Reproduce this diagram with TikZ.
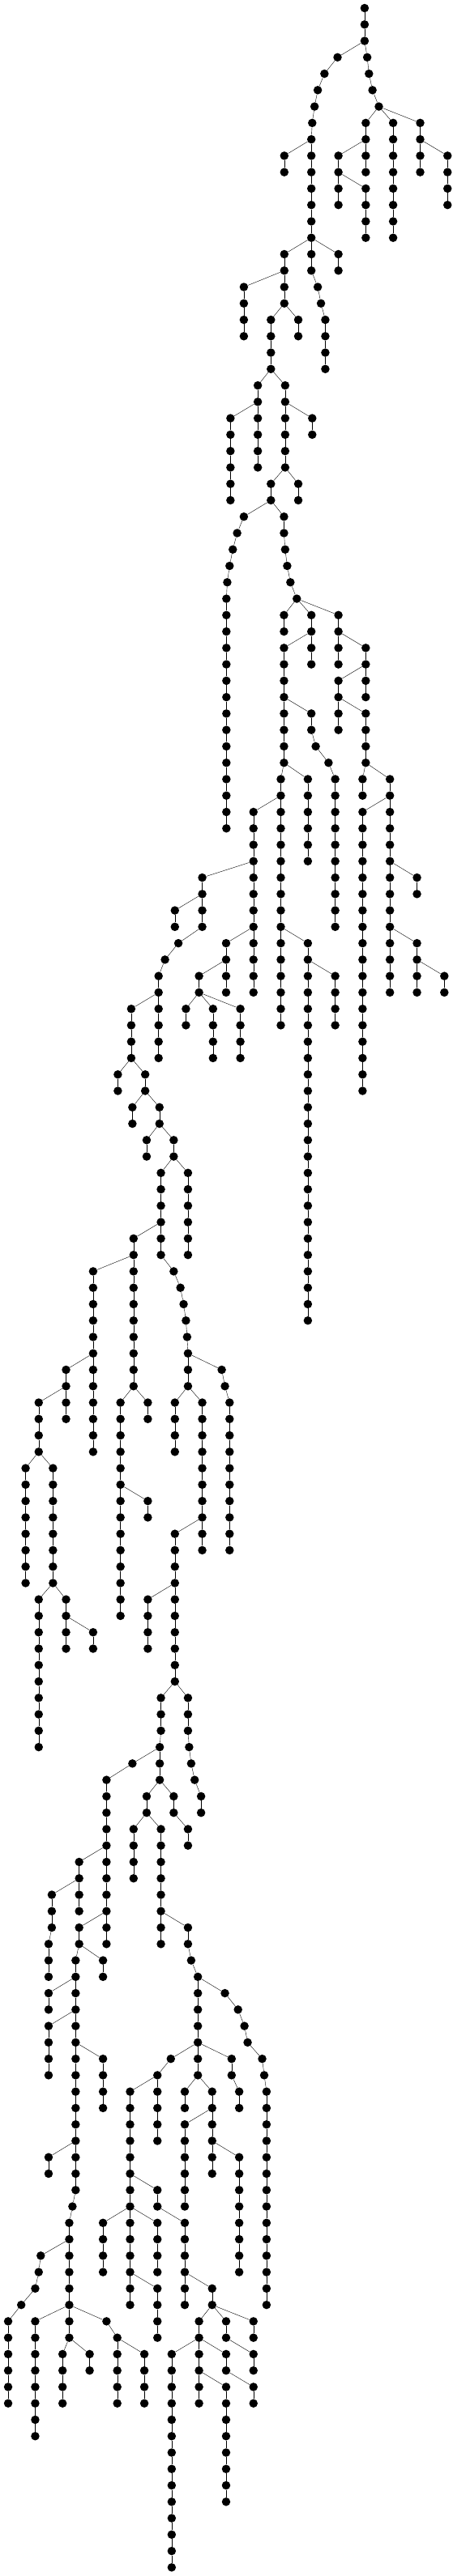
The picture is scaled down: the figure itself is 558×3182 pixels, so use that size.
\documentclass[tikz,border=0pt]{standalone}
\def\myhdist{0.359073pt}
\def\myvdist{20.265pt}
\tikzset{
line width=1.3pt, % All edges a bit over one pixel
my vertex/.style={circle,fill=black,draw=none,inner sep=0pt,minimum size=10.5pt},
}
% one branch: parent node, first level, list of x/repeat
\newcommand\mybranch[3]{%
  \xdef\myprev{#1}\xdef\mylev{#2}%
  \foreach \x/\n in {#3} {%
    \foreach \k in {1,...,\n} {%
      \node[my vertex] (v\mylev-\x) at (\x,-\mylev) {};
      \draw (\myprev) -- (v\mylev-\x);
      \xdef\myprev{v\mylev-\x}%
      \pgfmathtruncatemacro\mynext{\mylev+1}%
      \xdef\mylev{\mynext}%
    }%
  }%
}

\begin{document}
\begin{tikzpicture}[x=\myhdist,y=\myvdist]
\useasboundingbox (0pt,10pt) rectangle (558pt,-3172pt);
\node[my vertex] (v0-1253) at (1253,0) {};
\mybranch{v0-1253}{1}{1253/2,1160/1,1115/1,1092/1,1081/1,1073/1,1070/9,1092/1,1103/1,1118/4}
\mybranch{v2-1253}{3}{1262/1,1268/1,1280/1,1302/1,1351/8}
\mybranch{v6-1302}{7}{1257/4}
\mybranch{v8-1257}{9}{1163/4}
\mybranch{v10-1163}{11}{1257/4}
\mybranch{v6-1302}{7}{1444/4}
\mybranch{v8-1444}{9}{1538/4}
\mybranch{v8-1070}{9}{977/2}
\mybranch{v14-1070}{15}{977/4,931/4,886/6}
\mybranch{v14-1070}{15}{1163/2}
\mybranch{v16-977}{17}{838/4}
\mybranch{v18-977}{19}{1025/2}
\mybranch{v24-886}{25}{792/6}
\mybranch{v22-931}{23}{980/6,931/2,976/2,980/1,987/1,998/1,1020/1,1070/4}
\mybranch{v24-980}{25}{1073/2}
\mybranch{v28-980}{29}{1025/2}
\mybranch{v30-931}{31}{838/1,815/1,800/1,789/1,781/1,778/15}
\mybranch{v36-1020}{37}{976/2}
\mybranch{v36-1020}{37}{1163/4}
\mybranch{v38-1163}{39}{1257/4}
\mybranch{v40-1257}{41}{1163/4}
\mybranch{v42-1163}{43}{1257/4,1340/14}
\mybranch{v46-1257}{47}{1246/2}
\mybranch{v48-1340}{49}{1246/18}
\mybranch{v38-1070}{39}{976/8,965/16}
\mybranch{v46-976}{47}{1058/6}
\mybranch{v42-976}{43}{1070/2,1085/1,1129/1,1152/10}
\mybranch{v48-965}{49}{871/12}
\mybranch{v52-1340}{53}{1433/2}
\mybranch{v56-871}{57}{777/4}
\mybranch{v56-965}{57}{1058/24}
\mybranch{v56-1340}{57}{1433/4}
\mybranch{v58-777}{59}{684/2,732/4}
\mybranch{v60-684}{61}{639/2}
\mybranch{v60-684}{61}{826/4}
\mybranch{v58-1058}{59}{1152/4}
\mybranch{v58-1433}{59}{1527/2}
\mybranch{v52-871}{53}{695/4,613/1,567/1,545/2,451/4,499/2,548/2,597/2,553/6,597/1,620/1,631/1,639/1,643/1,646/3,695/10}
\mybranch{v54-695}{55}{601/2}
\mybranch{v60-545}{61}{545/4}
\mybranch{v64-451}{65}{405/2}
\mybranch{v66-499}{67}{455/2}
\mybranch{v68-548}{69}{504/2}
\mybranch{v70-597}{71}{646/6}
\mybranch{v74-553}{75}{459/10,414/14}
\mybranch{v76-459}{77}{320/12}
\mybranch{v82-320}{83}{227/4}
\mybranch{v84-227}{85}{133/4,182/8,133/10}
\mybranch{v88-133}{89}{88/8}
\mybranch{v96-182}{97}{227/4}
\mybranch{v98-227}{99}{320/2}
\mybranch{v84-459}{85}{508/2}
\mybranch{v90-414}{91}{508/2}
\mybranch{v84-646}{85}{601/4}
\mybranch{v82-646}{83}{762/1,773/1,789/10}
\mybranch{v92-695}{93}{601/10,553/3,549/3,504/2,553/8}
\mybranch{v96-601}{97}{508/4}
\mybranch{v102-601}{103}{646/3,650/1,657/1,669/1,691/2}
\mybranch{v106-549}{107}{455/1,366/11}
\mybranch{v108-549}{109}{597/2,646/2}
\mybranch{v110-504}{111}{459/4}
\mybranch{v112-366}{113}{272/4}
\mybranch{v114-272}{115}{178/3,167/3}
\mybranch{v116-366}{117}{272/2,260/15,249/1,238/8,215/4}
\mybranch{v118-272}{119}{354/2}
\mybranch{v120-260}{121}{167/2}
\mybranch{v122-260}{123}{167/4}
\mybranch{v124-260}{125}{354/4}
\mybranch{v130-260}{131}{167/2}
\mybranch{v136-238}{137}{140/1,133/1,121/1,73/1,28/6}
\mybranch{v140-238}{141}{121/8}
\mybranch{v140-238}{141}{366/1,403/5}
\mybranch{v142-238}{143}{308/2}
\mybranch{v142-403}{143}{496/4}
\mybranch{v116-553}{117}{646/2,657/1,680/7,729/6}
\mybranch{v120-680}{121}{773/1,818/1,840/1,851/1,901/1,908/1,916/14}
\mybranch{v124-680}{125}{587/1,541/1,447/14}
\mybranch{v126-541}{127}{541/4}
\mybranch{v124-680}{125}{796/2,822/2}
\mybranch{v126-680}{127}{635/2}
\mybranch{v128-729}{129}{635/6}
\mybranch{v130-729}{131}{822/8}
\mybranch{v132-447}{133}{541/2,635/6}
\mybranch{v134-447}{135}{354/4}
\mybranch{v134-447}{135}{541/4}
\mybranch{v138-447}{139}{541/4}
\mybranch{v138-635}{139}{729/2,684/6}
\mybranch{v140-729}{141}{777/2,871/2}
\mybranch{v140-729}{141}{871/2}
\mybranch{v142-684}{143}{590/14}
\mybranch{v142-684}{143}{777/2,871/2}
\mybranch{v144-684}{145}{777/8}
\end{tikzpicture}
\end{document}
